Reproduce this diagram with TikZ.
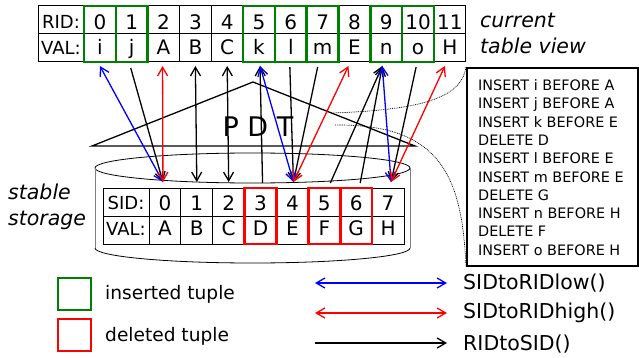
\documentclass[tikz,border=0pt]{standalone}
\usepackage{fontspec}
\setmainfont{DejaVu Sans}
\usetikzlibrary{arrows.meta,calc}
\definecolor{grn}{RGB}{0,128,0}
\definecolor{rd}{RGB}{255,0,0}
\definecolor{bl}{RGB}{0,0,255}
\tikzset{
  cell/.style={draw, line width=1pt, inner sep=0pt, outer sep=0pt, minimum height=28pt,
    font=\fontsize{20}{22}\selectfont},
  tcell/.style={cell, minimum width=31.82pt},
  bcell/.style={cell, minimum width=31.875pt},
  lcell/.style={cell, minimum width=46pt, font=\fontsize{18}{20}\selectfont},
  % vertical placement of the text in each row
  rowa/.style={text height=19.6pt, text depth=0pt},
  rowb/.style={text height=14.6pt, text depth=2pt},
  rowc/.style={text height=17.6pt, text depth=0pt},
  rowd/.style={text height=14.6pt, text depth=3pt},
  labrowa/.style={text height=17.6pt, text depth=0pt},
  labrowb/.style={text height=13.1pt, text depth=1pt},
  labrowc/.style={text height=15.1pt, text depth=0pt},
  labrowd/.style={text height=13.1pt, text depth=2pt},
  ins/.style={draw=grn, line width=2.5pt},
  del/.style={draw=rd, line width=2.5pt},
  >={Straight Barb[angle=60:10pt]},
  conn/.style={line width=1.3pt},
  big/.style={font=\fontsize{20.5}{26}\selectfont\itshape, align=left, inner sep=0pt},
  legtxt/.style={anchor=west, inner sep=0pt, font=\fontsize{20.5}{24}\selectfont},
  legbox/.style={minimum width=33pt, minimum height=32pt, inner sep=0pt, line width=2.5pt},
  zoomline/.style={line width=0.7pt, dash pattern=on 0.9pt off 0.9pt},
}
\begin{document}
\begin{tikzpicture}[x=1pt,y=-1pt]
\useasboundingbox (0,0) rectangle (639,358);

% stable storage cylinder
\draw[line width=0.8pt] (252.5,168) ellipse [x radius=157.5pt, y radius=15pt];
\draw[gray, line width=0.8pt] (95,168) -- (95,248);
\draw[gray, line width=0.8pt] (410,168) -- (410,248);
\draw[line width=0.8pt] (95,248) arc[start angle=180, end angle=360, x radius=157.5pt, y radius=15pt];

% top table (current table view)
\node[lcell, labrowa] (rl) at (61,20) {RID:};
\node[lcell, labrowb] (vl) at (61,48) {VAL:};
\foreach \k in {0,...,11} {
  \node[tcell, rowa] (r\k) at ({84+31.82*(\k+0.5)},20) {\k};
}
\foreach \v [count=\k from 0] in {i,j,A,B,C,k,l,m,E,n,o,H} {
  \node[tcell, rowb] (v\k) at ({84+31.82*(\k+0.5)},48) {\v};
}
\foreach \k in {0,1,5,6,7,9,10} {
  \draw[ins] (r\k.north west) rectangle (v\k.south east);
}

% bottom table (stable storage)
\node[lcell, labrowc] (sl) at (126,202) {SID:};
\node[lcell, labrowd] (wl) at (126,230) {VAL:};
\foreach \k in {0,...,7} {
  \node[bcell, rowc] (s\k) at ({149+31.875*(\k+0.5)},202) {\k};
}
\foreach \v [count=\k from 0] in {A,B,C,D,E,F,G,H} {
  \node[bcell, rowd] (w\k) at ({149+31.875*(\k+0.5)},230) {\v};
}
\foreach \k in {3,5,6} {
  \draw[del] (s\k.north west) rectangle (w\k.south east);
}

% labels
\node[big, anchor=north west] (ctv) at (480,13.2) {current\\table view};
\node[big, anchor=north west] (stst) at (8,183.3) {stable\\storage};

% PDT triangle
\coordinate (pl) at (92,146);
\coordinate (pa) at (253,82);
\coordinate (pr) at (415,146);
\draw[line width=1.3pt] (pl) -- (pa) -- (pr) -- cycle;
\node[anchor=base, inner sep=0pt, font=\fontsize{27}{30}\selectfont] (pdt) at (258,137) {P D T};

% command box
\node[draw, line width=1.8pt, minimum width=171pt, minimum height=198pt, inner sep=0pt,
      anchor=north west] (cmdbox) at (466,67) {};
\node[anchor=north west, inner sep=0pt, align=left,
      font=\fontsize{14.4}{18.3}\selectfont] (cmds) at (478,79.4)
 {INSERT i BEFORE A\\INSERT j BEFORE A\\INSERT k BEFORE E\\DELETE D\\INSERT l BEFORE E\\
  INSERT m BEFORE E\\DELETE G\\INSERT n BEFORE H\\DELETE F\\INSERT o BEFORE H};

% zoom lines
\coordinate (z1) at (331,113);
\coordinate (z2) at (335,125);
\draw[zoomline] (z1) .. controls (430,110) and (462,95) .. (cmdbox.north west);
\draw[zoomline] (z2) .. controls (440,124) and (462,175) .. (cmdbox.south west);

% connector end points
\coordinate (T0) at ($(v0.south)+(0,4)$);
\coordinate (T1) at ($(v1.south)+(-1,6)$);
\coordinate (T2) at ($(v2.south)+(-1,4)$);
\coordinate (T3) at ($(v3.south)+(0,4)$);
\coordinate (T4) at ($(v4.south)+(0,4)$);
\coordinate (T5) at ($(v5.south)+(1,4)$);
\coordinate (T6) at ($(v6.south)+(-1,5)$);
\coordinate (T7) at ($(v7.south)+(-5,5)$);
\coordinate (T8) at ($(v8.south)+(-6,4)$);
\coordinate (T9) at ($(v9.south)+(-4,4)$);
\coordinate (T10) at ($(v10.south)+(-2,5)$);
\coordinate (T11) at ($(v11.south)+(-5,4)$);
\coordinate (B0) at ($(s0.north)+(-2,-6)$);
\coordinate (B1) at ($(s1.north)+(0,-6)$);
\coordinate (B2) at ($(s2.north)+(0,-6)$);
\coordinate (B3) at ($(s3.north)+(2,-5)$);
\coordinate (B4) at ($(s4.north)+(1,-6)$);
\coordinate (B5) at ($(s5.north)+(6,-5)$);
\coordinate (B6) at ($(s6.north)+(4,-5)$);
\coordinate (B7) at ($(s7.north)+(3,-6)$);

% RIDtoSID (black)
\draw[conn, ->] (T1) -- (B0);
\draw[conn, <->] (T3) -- (B1);
\draw[conn, <->] (T4) -- (B2);
\draw[conn, ->] (B3) -- (T5);
\draw[conn, ->] (T6) -- (B4);
\draw[conn, ->] (T7) -- (B4);
\draw[conn, ->] (B5) -- (T9);
\draw[conn, ->] (B6) -- (T9);
\draw[conn, ->] (T10) -- (B7);

% SIDtoRIDlow (blue)
\draw[conn, bl, <->] (B0) -- (T0);
\draw[conn, bl, <->] (B4) -- (T5);
\draw[conn, bl, <->] (B7) -- (T9);

% SIDtoRIDhigh (red)
\draw[conn, rd, <->] (B0) -- (T2);
\draw[conn, rd, <->] (B4) -- (T8);
\draw[conn, rd, <->] (B7) -- (T11);

% legend
\node[legbox, draw=grn] (lgi) at (74.5,294) {};
\node[legbox, draw=rd] (lgd) at (74.5,335) {};
\node[anchor=west, inner sep=0pt, font=\fontsize{18.6}{20}\selectfont] (lgit) at (105,294) {inserted tuple};
\node[anchor=west, inner sep=0pt, font=\fontsize{18.6}{20}\selectfont] (lgdt) at (105,336) {deleted tuple};

\node[legtxt] (f1) at (463,283) {SIDtoRIDlow()};
\node[legtxt] (f2) at (463,313) {SIDtoRIDhigh()};
\node[legtxt] (f3) at (463,344) {RIDtoSID()};
\coordinate (a1) at (315,283);
\coordinate (a2) at (315,313);
\coordinate (a3) at (315,343);
\draw[conn, bl, <->] (a1) -- ($(f1.west)+(-16,0)$);
\draw[conn, rd, <->] (a2) -- ($(f2.west)+(-16,0)$);
\draw[conn, ->] (a3) -- ($(f3.west)+(-16,-1)$);
\end{tikzpicture}
\end{document}
